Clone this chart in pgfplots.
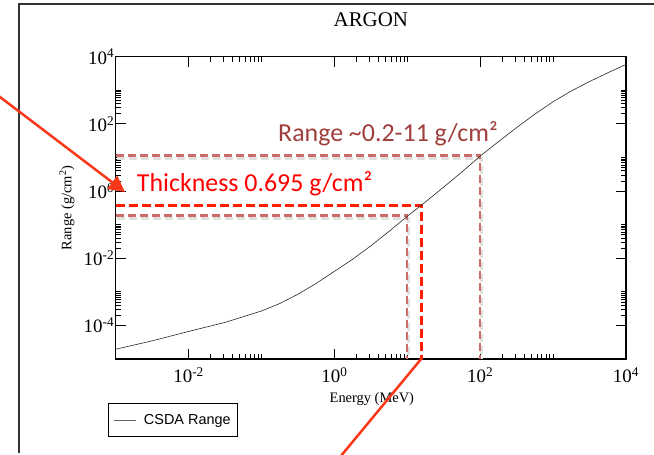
\documentclass[border=0pt]{standalone}
\usepackage{fontspec}
\setmainfont{Liberation Serif}
\newfontfamily\lsans{Liberation Sans}
\newfontfamily\carlito{Carlito}
\usepackage{pgfplots}
\pgfplotsset{compat=1.18}
\usetikzlibrary{arrows.meta}
\definecolor{rngbrown}{RGB}{160,62,60}
\definecolor{dashlight}{RGB}{205,108,104}
\definecolor{redline}{RGB}{255,30,0}
\definecolor{arrowred}{RGB}{250,55,25}
\begin{document}
\begin{tikzpicture}[x=1bp,y=1bp]
\useasboundingbox (0,0) rectangle (654,455);
\draw[line width=1.6bp, black!80] (19,2) -- (19,450.7) -- (660,450.7);
\begin{axis}[
  at={(115.7bp,96bp)}, anchor=south west,
  scale only axis, width=510.3bp, height=302.3bp,
  xmode=log, ymode=log,
  xmin=1e-3, xmax=1e4, ymin=1e-5, ymax=1e4,
  axis line style={line width=1.3bp},
  xtick={1e-2,1,1e2,1e4},
  xticklabels={10\textsuperscript{-2},10\textsuperscript{0},10\textsuperscript{2},10\textsuperscript{4}},
  ytick={1e-4,1e-2,1,1e2,1e4},
  yticklabels={10\textsuperscript{-4},10\textsuperscript{-2},10\textsuperscript{0},10\textsuperscript{2},10\textsuperscript{4}},
  minor xtick={0.02,0.03,0.04,0.05,0.06,0.07,0.08,0.09,0.1,2,3,4,5,6,7,8,9,10,200,300,400,500,600,700,800,900,1000},
  minor ytick={2e-4,3e-4,4e-4,5e-4,6e-4,7e-4,8e-4,9e-4,1e-3,0.02,0.03,0.04,0.05,0.06,0.07,0.08,0.09,0.1,2,3,4,5,6,7,8,9,10,200,300,400,500,600,700,800,900,1000},
  major tick length=10bp, minor tick length=5bp,
  tick style={line width=0.8bp, black},
  tick align=inside,
  xticklabel style={font=\fontsize{19}{19}\selectfont, yshift=-5bp},
  yticklabel style={font=\fontsize{19}{19}\selectfont, xshift=2bp},
  title={ARGON},
  title style={at={(axis description cs:0.5,1.1015)}, anchor=center, font=\fontsize{21}{21}\selectfont},
  xlabel={Energy (MeV)},
  xlabel style={at={(axis description cs:0.502,-0.1320)}, anchor=center, font=\fontsize{14.5}{14.5}\selectfont},
  ylabel={Range (g/cm\textsuperscript{2})},
  ylabel style={at={(axis description cs:-0.0954,0.5)}, anchor=center, font=\fontsize{14.5}{14.5}\selectfont},
  legend style={at={(axis description cs:-0.0157,-0.1446)}, anchor=north west, draw=black, line width=1bp,
    font=\lsans\fontsize{14.5}{16}\selectfont, inner xsep=5bp, inner ysep=9bp,
    /tikz/every odd column/.append style={column sep=6bp}},
  legend cell align=left,
  legend image code/.code={\draw[black!60, line width=0.8bp] (0bp,0bp) -- (22bp,0bp);},
]
% shadows of the dashed guide lines
\addplot[black!12, line width=3bp, dash pattern=on 8bp off 4bp, shift={(1.5bp,-2.5bp)}, forget plot]
  coordinates {(1e-3,11.3) (100,11.3) (100,1e-5)};
\addplot[black!12, line width=3bp, dash pattern=on 8bp off 4bp, shift={(1.5bp,-2.5bp)}, forget plot]
  coordinates {(1e-3,0.185) (9.9,0.185) (9.9,1e-5)};
% guide lines
\addplot[dashlight, line width=2.5bp, dash pattern=on 8bp off 4bp, forget plot]
  coordinates {(1e-3,11.3) (100,11.3) (100,1e-5)};
\addplot[dashlight, line width=2.5bp, dash pattern=on 8bp off 4bp, forget plot]
  coordinates {(1e-3,0.185) (9.9,0.185) (9.9,1e-5)};
\addplot[redline, line width=3bp, dash pattern=on 9bp off 4bp, forget plot]
  coordinates {(1e-3,0.366) (15.85,0.366) (15.85,1e-5)};
% CSDA range curve
\addplot[black!85, line width=0.6bp] coordinates {
(1e-3,1.95e-5) (3.162e-3,3.47e-5) (1e-2,6.61e-5)
(3.162e-2,1.23e-4) (0.1,2.69e-4) (0.1778,4.47e-4) (0.3162,8.51e-4)
(0.5623,1.78e-3) (1,4.07e-3) (1.778,9.33e-3) (3.162,0.0234)
(5.623,0.0631) (10,0.178) (15.85,0.389) (31.62,1.318) (56.23,3.715)
(100,11.0) (177.8,29.5) (316.2,77.6) (562.3,195) (1000,457)
(1778,955) (3162,1820) (5623,3311) (10000,5888)
};
\addlegendentry{CSDA Range}
\end{axis}
\node[anchor=base west, inner sep=0, text=rngbrown, font=\carlito\fontsize{26}{26}\selectfont] at (278,313.3) {Range \textasciitilde0.2-11 g/cm²};
\node[anchor=base west, inner sep=0, text=red, font=\carlito\fontsize{26}{26}\selectfont] at (136.7,263.3) {Thickness 0.695 g/cm²};
\draw[arrowred, line width=2.5bp, -{Triangle[length=16bp,width=16bp]}] (-10,365.6) -- (125,263);
\draw[arrowred, line width=2.5bp] (421.7,96.7) -- (335.1,-8);
\end{tikzpicture}
\end{document}
